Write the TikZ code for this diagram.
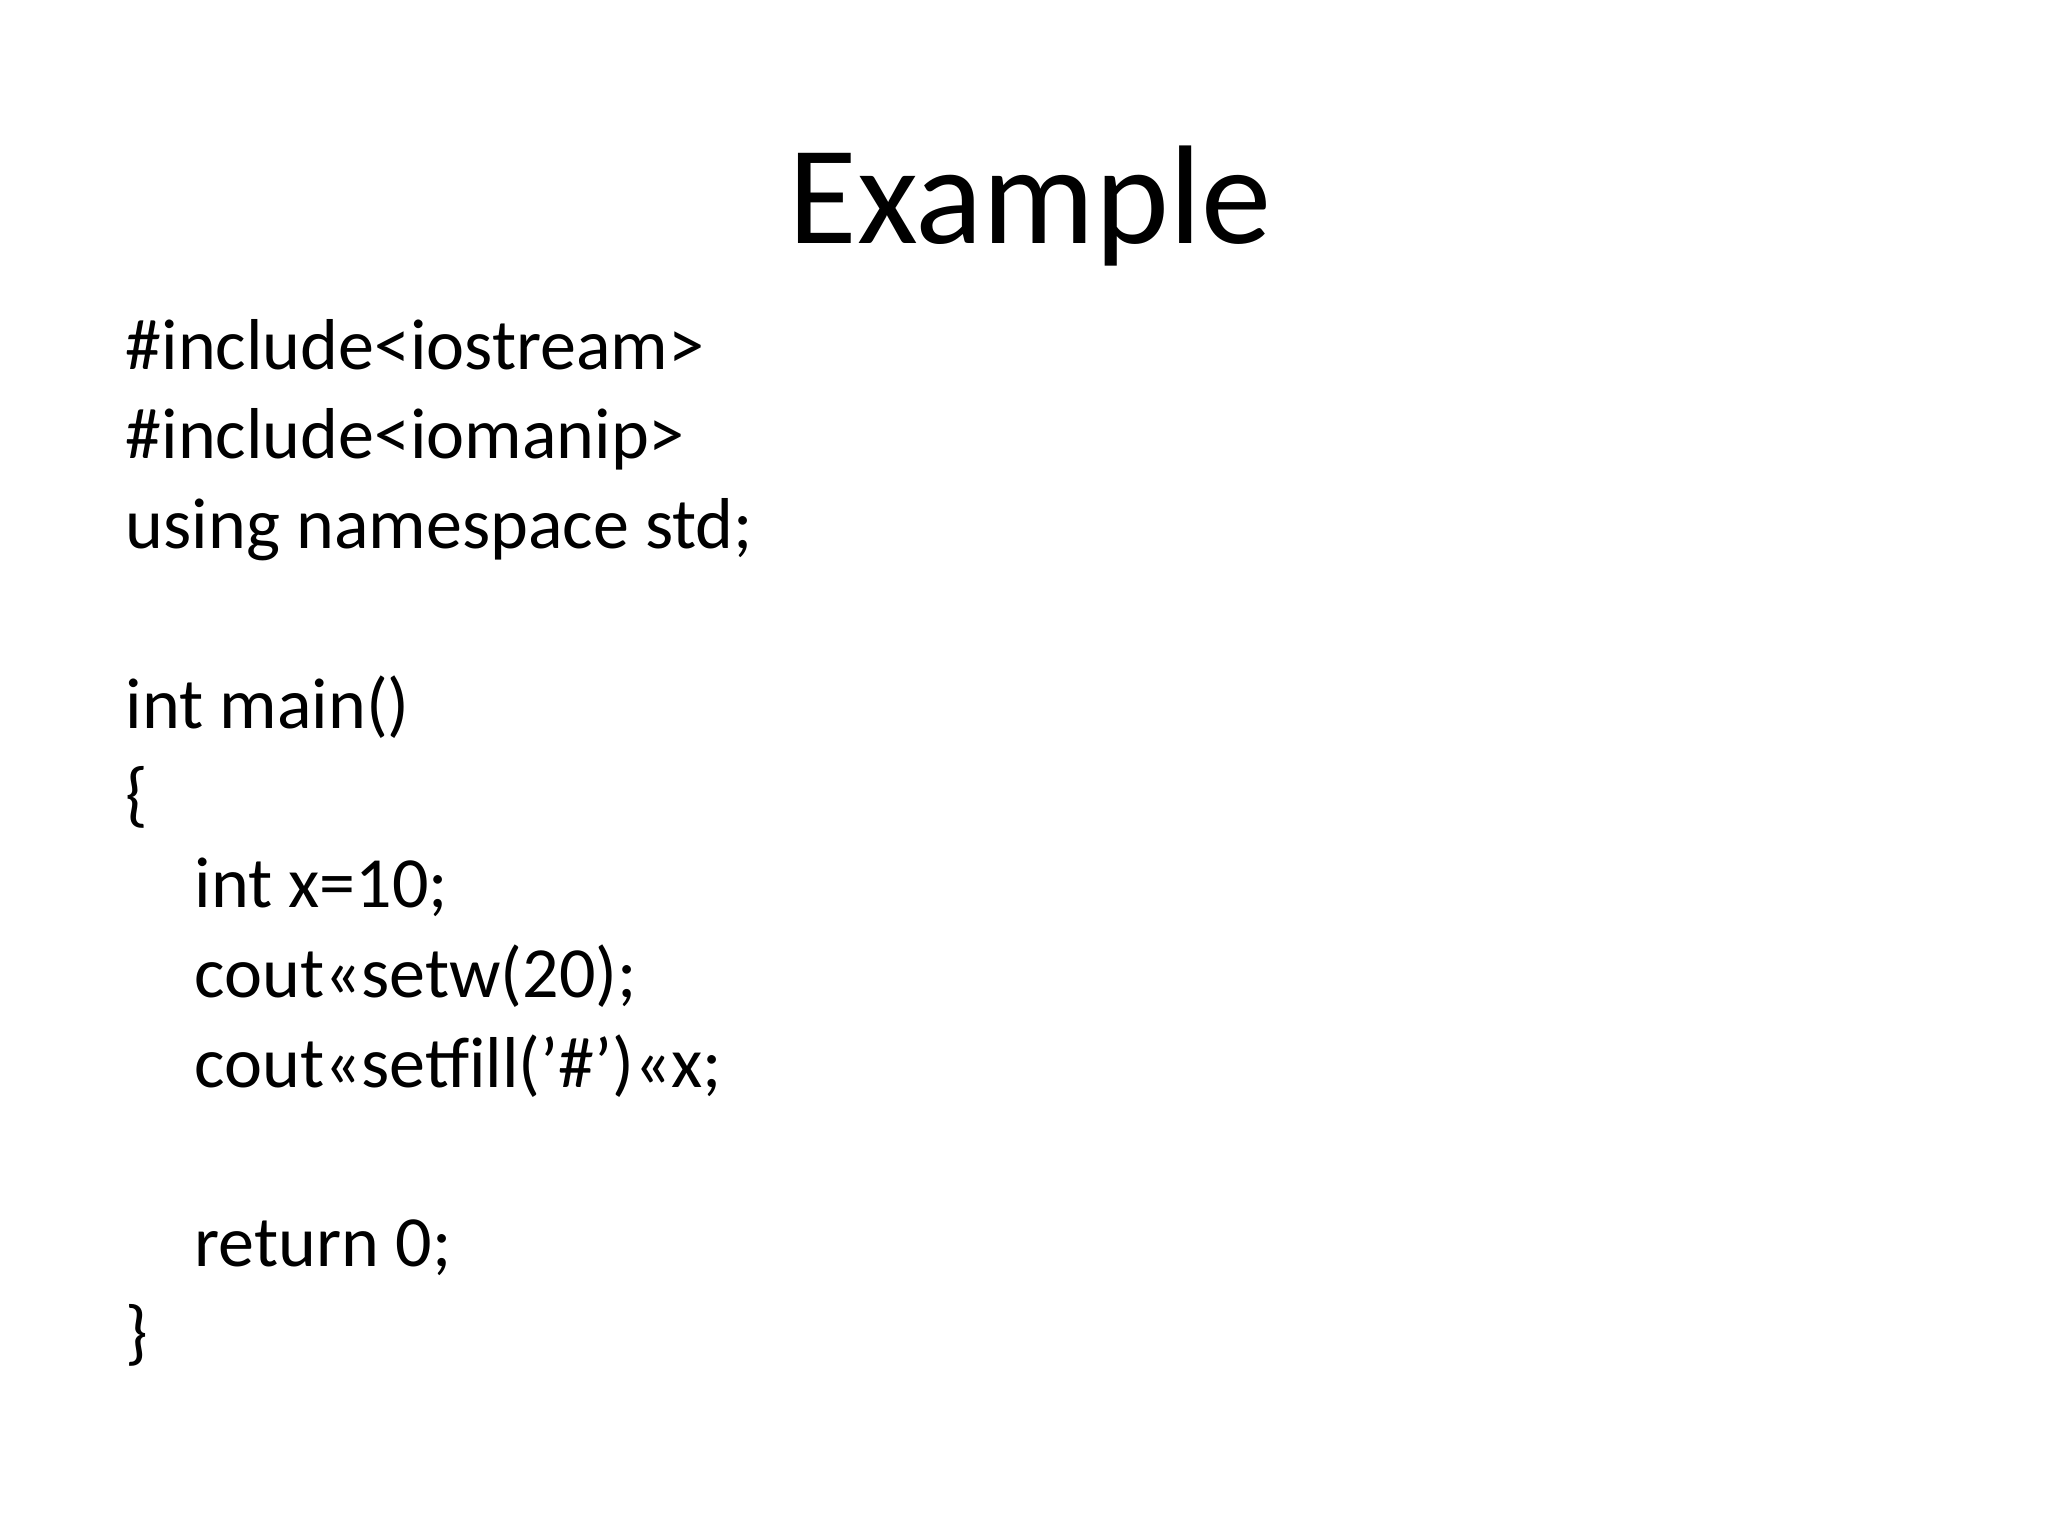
\documentclass[tikz,border=0pt]{standalone}
\usepackage{fontspec}
\defaultfontfeatures{}
\setmainfont{Carlito}
\usetikzlibrary{positioning}

\begin{document}
\begin{tikzpicture}[x=1cm,y=1cm]
      \useasboundingbox (0,0) rectangle (20.48,-15.36);
      \tikzset{code/.style={anchor=base west,inner sep=0pt,font=\fontsize{20.5}{24}\selectfont}}
      \node[anchor=base,inner sep=0pt,font=\fontsize{40}{48}\selectfont] (title) at (10.3,-2.44) {Example};
      %
      \node[code] (inc_0) at (1.25,-3.70) {\#include<iostream>};
      \node[code] (inc_1) at (1.25,-4.59) {\#include<iomanip>};
      \node[code] (using) at (1.25,-5.49) {using namespace std;};
      \node[code] (main) at (1.25,-7.28) {int main()};
      \node[code] (open) at (1.25,-8.18) {\{};
      \node[code] (line_0) at (1.94,-9.07) {int x=10;};
      \node[code] (line_1) at (1.94,-9.97) {cout<<setw(20);};
      \node[code] (line_2) at (1.94,-10.87) {cout<<setfill('\#')<<x;};
      \node[code] (ret) at (1.94,-12.66) {return 0;};
      \node[code] (close) at (1.25,-13.56) {\}};
\end{tikzpicture}
\end{document}
